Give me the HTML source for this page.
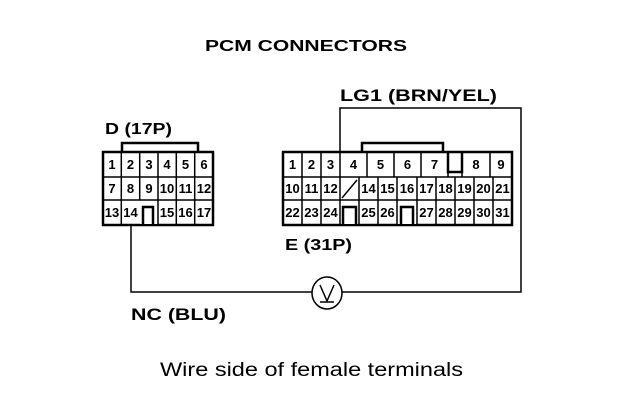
<!DOCTYPE html>
<html><head><meta charset="utf-8"><style>
html,body{margin:0;padding:0;background:#fff;}
svg{display:block;}
text{font-family:"Liberation Sans",Arial,sans-serif;fill:#000;}
.b{font-weight:bold;}
.n{font-size:13px;font-weight:bold;text-anchor:middle;}
</style></head><body>
<svg width="640" height="412" viewBox="0 0 640 412" xmlns="http://www.w3.org/2000/svg">
<text x="205" y="51" class="b" font-size="16" textLength="202" lengthAdjust="spacingAndGlyphs">PCM CONNECTORS</text>
<text x="340" y="101" class="b" font-size="17" textLength="157" lengthAdjust="spacingAndGlyphs">LG1 (BRN/YEL)</text>
<text x="105" y="134" class="b" font-size="16" textLength="67" lengthAdjust="spacingAndGlyphs">D (17P)</text>
<text x="285" y="250" class="b" font-size="16" textLength="67" lengthAdjust="spacingAndGlyphs">E (31P)</text>
<text x="131" y="320" class="b" font-size="17" textLength="95" lengthAdjust="spacingAndGlyphs">NC (BLU)</text>
<text x="160" y="376" font-size="19" textLength="303" lengthAdjust="spacingAndGlyphs">Wire side of female terminals</text>

<g fill="none" stroke="#000">
<path d="M122 152 V143 H198 V152" stroke-width="2.5"/>
<rect x="103" y="152" width="110" height="73" stroke-width="2.5"/>
<path d="M103 177 H213 M103 200 H213" stroke-width="1.5"/>
<path d="M121.3 152 V225 M139.7 152 V200 M158 152 V225 M176.3 152 V225 M194.7 152 V225" stroke-width="1.5"/>
<path d="M131 225 V292 H312 M342 292 H521 V108 H340 V152" stroke-width="1.5"/>
<ellipse cx="327" cy="293" rx="15" ry="16" stroke-width="1.5"/>
<path d="M320 285 L327 301 L334 285 M320 302 H334" stroke-width="1.5"/>
<path d="M362 152 V143 H443 V152" stroke-width="2.5"/>
<rect x="283" y="152" width="229" height="73" stroke-width="2.5"/>
<path d="M283 177 H512 M283 200 H512" stroke-width="1.5"/>
<path d="M302 152 V177 M321 152 V177 M340 152 V177 M367 152 V177 M394 152 V177 M421 152 V177 M448 152 V177 M462 152 V177 M490 152 V177" stroke-width="1.5"/>
<path d="M448 152 V172 H462 V152" stroke-width="2.5"/>
<path d="M302 177 V225 M321 177 V225 M340 177 V225 M359 177 V225 M378 177 V225 M397 177 V225 M417 177 V225 M436 177 V225 M455 177 V225 M474 177 V225 M493 177 V225" stroke-width="1.5"/>
<path d="M342 198 L357 180" stroke-width="1.5"/>
</g>
<rect x="341" y="201" width="17" height="23" fill="#fff"/>
<rect x="398" y="201" width="18" height="23" fill="#fff"/>
<rect x="140" y="201" width="17" height="23" fill="#fff"/>
<g fill="none" stroke="#000" stroke-width="2.5">
<path d="M343 225 V207 H356 V225 M401 225 V207 H413 V225 M143 225 V207 H153 V225"/>
</g>

<g>
<text class="n" x="112" y="169">1</text><text class="n" x="130.5" y="169">2</text><text class="n" x="149" y="169">3</text><text class="n" x="167" y="169">4</text><text class="n" x="185.5" y="169">5</text><text class="n" x="204" y="169">6</text>
<text class="n" x="112" y="193">7</text><text class="n" x="130.5" y="193">8</text><text class="n" x="149" y="193">9</text><text class="n" x="167" y="193">10</text><text class="n" x="185.5" y="193">11</text><text class="n" x="204" y="193">12</text>
<text class="n" x="112" y="217">13</text><text class="n" x="130.5" y="217">14</text><text class="n" x="167" y="217">15</text><text class="n" x="185.5" y="217">16</text><text class="n" x="204" y="217">17</text>

<text class="n" x="292.5" y="169">1</text><text class="n" x="311.5" y="169">2</text><text class="n" x="330.5" y="169">3</text><text class="n" x="353.5" y="169">4</text><text class="n" x="380.5" y="169">5</text><text class="n" x="407.5" y="169">6</text><text class="n" x="434.5" y="169">7</text><text class="n" x="476" y="169">8</text><text class="n" x="501" y="169">9</text>
<text class="n" x="292.5" y="193">10</text><text class="n" x="311.5" y="193">11</text><text class="n" x="330.5" y="193">12</text><text class="n" x="368.5" y="193">14</text><text class="n" x="387.5" y="193">15</text><text class="n" x="407" y="193">16</text><text class="n" x="426.5" y="193">17</text><text class="n" x="445.5" y="193">18</text><text class="n" x="464.5" y="193">19</text><text class="n" x="483.5" y="193">20</text><text class="n" x="502.5" y="193">21</text>
<text class="n" x="292.5" y="217">22</text><text class="n" x="311.5" y="217">23</text><text class="n" x="330.5" y="217">24</text><text class="n" x="368.5" y="217">25</text><text class="n" x="387.5" y="217">26</text><text class="n" x="426.5" y="217">27</text><text class="n" x="445.5" y="217">28</text><text class="n" x="464.5" y="217">29</text><text class="n" x="483.5" y="217">30</text><text class="n" x="502.5" y="217">31</text>
</g>
</svg>
</body></html>
